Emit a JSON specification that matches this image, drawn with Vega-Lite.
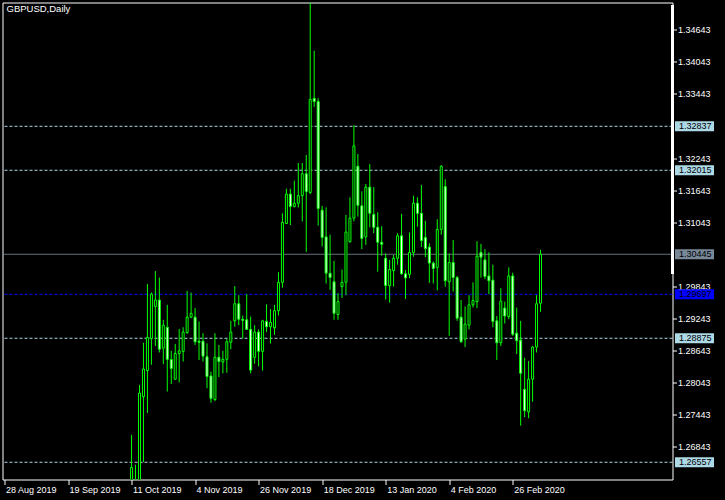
{
  "$schema": "https://vega.github.io/schema/vega-lite/v6.json",
  "autosize": {"type": "none"},
  "width": 670,
  "height": 477,
  "padding": {"left": 2.5, "top": 2.5, "right": 52.5, "bottom": 20.5},
  "background": "black",
  "config": {
    "view": {"stroke": "white", "strokeWidth": 1, "fill": "black"},
    "axis": {"grid": false, "domain": false, "labelColor": "white", "tickColor": "white", "labelFont": "Liberation Sans", "title": null}
  },
  "title": {"text": "GBPUSD,Daily", "anchor": "start", "frame": "group", "orient": "top", "offset": -11, "dx": 4, "color": "white", "fontSize": 9.5, "font": "Liberation Sans", "fontWeight": "normal"},
  "datasets": {
    "candles": [
      {"d": "2019-10-11", "o": 1.2440, "h": 1.2707, "l": 1.2435, "c": 1.2646},
      {"d": "2019-10-14", "o": 1.2620, "h": 1.2651, "l": 1.2583, "c": 1.2612},
      {"d": "2019-10-15", "o": 1.2612, "h": 1.2800, "l": 1.2600, "c": 1.2785},
      {"d": "2019-10-16", "o": 1.2778, "h": 1.2879, "l": 1.2656, "c": 1.2830},
      {"d": "2019-10-17", "o": 1.2827, "h": 1.2989, "l": 1.2748, "c": 1.2889},
      {"d": "2019-10-18", "o": 1.2887, "h": 1.2973, "l": 1.2838, "c": 1.2970},
      {"d": "2019-10-21", "o": 1.2947, "h": 1.3013, "l": 1.2873, "c": 1.2959},
      {"d": "2019-10-22", "o": 1.2959, "h": 1.3001, "l": 1.2861, "c": 1.2867},
      {"d": "2019-10-23", "o": 1.2869, "h": 1.2922, "l": 1.2839, "c": 1.2912},
      {"d": "2019-10-24", "o": 1.2908, "h": 1.2950, "l": 1.2788, "c": 1.2848},
      {"d": "2019-10-25", "o": 1.2848, "h": 1.2864, "l": 1.2802, "c": 1.2831},
      {"d": "2019-10-28", "o": 1.2811, "h": 1.2877, "l": 1.2810, "c": 1.2859},
      {"d": "2019-10-29", "o": 1.2859, "h": 1.2905, "l": 1.2805, "c": 1.2864},
      {"d": "2019-10-30", "o": 1.2863, "h": 1.2908, "l": 1.2844, "c": 1.2899},
      {"d": "2019-10-31", "o": 1.2898, "h": 1.2976, "l": 1.2896, "c": 1.2927},
      {"d": "2019-11-01", "o": 1.2927, "h": 1.2973, "l": 1.2925, "c": 1.2934},
      {"d": "2019-11-04", "o": 1.2927, "h": 1.2944, "l": 1.2875, "c": 1.2881},
      {"d": "2019-11-05", "o": 1.2882, "h": 1.2919, "l": 1.2847, "c": 1.2880},
      {"d": "2019-11-06", "o": 1.2882, "h": 1.2897, "l": 1.2844, "c": 1.2854},
      {"d": "2019-11-07", "o": 1.2853, "h": 1.2878, "l": 1.2794, "c": 1.2816},
      {"d": "2019-11-08", "o": 1.2817, "h": 1.2825, "l": 1.2767, "c": 1.2775},
      {"d": "2019-11-11", "o": 1.2773, "h": 1.2897, "l": 1.2770, "c": 1.2852},
      {"d": "2019-11-12", "o": 1.2852, "h": 1.2875, "l": 1.2815, "c": 1.2844},
      {"d": "2019-11-13", "o": 1.2843, "h": 1.2864, "l": 1.2822, "c": 1.2848},
      {"d": "2019-11-14", "o": 1.2848, "h": 1.2886, "l": 1.2823, "c": 1.2881},
      {"d": "2019-11-15", "o": 1.2880, "h": 1.2920, "l": 1.2867, "c": 1.2899},
      {"d": "2019-11-18", "o": 1.2920, "h": 1.2985, "l": 1.2909, "c": 1.2952},
      {"d": "2019-11-19", "o": 1.2952, "h": 1.2968, "l": 1.2912, "c": 1.2923},
      {"d": "2019-11-20", "o": 1.2923, "h": 1.2930, "l": 1.2887, "c": 1.2921},
      {"d": "2019-11-21", "o": 1.2922, "h": 1.2970, "l": 1.2903, "c": 1.2904},
      {"d": "2019-11-22", "o": 1.2904, "h": 1.2928, "l": 1.2822, "c": 1.2828},
      {"d": "2019-11-25", "o": 1.2852, "h": 1.2912, "l": 1.2840, "c": 1.2899},
      {"d": "2019-11-26", "o": 1.2899, "h": 1.2904, "l": 1.2835, "c": 1.2863},
      {"d": "2019-11-27", "o": 1.2863, "h": 1.2922, "l": 1.2827, "c": 1.2920},
      {"d": "2019-11-28", "o": 1.2919, "h": 1.2951, "l": 1.2899, "c": 1.2909},
      {"d": "2019-11-29", "o": 1.2909, "h": 1.2942, "l": 1.2878, "c": 1.2917},
      {"d": "2019-12-02", "o": 1.2907, "h": 1.2950, "l": 1.2894, "c": 1.2939},
      {"d": "2019-12-03", "o": 1.2939, "h": 1.3011, "l": 1.2930, "c": 1.2992},
      {"d": "2019-12-04", "o": 1.2992, "h": 1.3121, "l": 1.2982, "c": 1.3104},
      {"d": "2019-12-05", "o": 1.3102, "h": 1.3167, "l": 1.3101, "c": 1.3157},
      {"d": "2019-12-06", "o": 1.3157, "h": 1.3167, "l": 1.3099, "c": 1.3134},
      {"d": "2019-12-09", "o": 1.3134, "h": 1.3182, "l": 1.3132, "c": 1.3140},
      {"d": "2019-12-10", "o": 1.3140, "h": 1.3215, "l": 1.3132, "c": 1.3154},
      {"d": "2019-12-11", "o": 1.3154, "h": 1.3215, "l": 1.3106, "c": 1.3195},
      {"d": "2019-12-12", "o": 1.3195, "h": 1.3230, "l": 1.3049, "c": 1.3162},
      {"d": "2019-12-13", "o": 1.3160, "h": 1.3515, "l": 1.3157, "c": 1.3334},
      {"d": "2019-12-16", "o": 1.3336, "h": 1.3425, "l": 1.3320, "c": 1.3330},
      {"d": "2019-12-17", "o": 1.3330, "h": 1.3336, "l": 1.3098, "c": 1.3130},
      {"d": "2019-12-18", "o": 1.3127, "h": 1.3135, "l": 1.3059, "c": 1.3076},
      {"d": "2019-12-19", "o": 1.3077, "h": 1.3132, "l": 1.2990, "c": 1.3009},
      {"d": "2019-12-20", "o": 1.3009, "h": 1.3081, "l": 1.2978, "c": 1.3001},
      {"d": "2019-12-23", "o": 1.2993, "h": 1.3032, "l": 1.2922, "c": 1.2934},
      {"d": "2019-12-24", "o": 1.2932, "h": 1.2972, "l": 1.2922, "c": 1.2956},
      {"d": "2019-12-26", "o": 1.2984, "h": 1.3016, "l": 1.2963, "c": 1.2992},
      {"d": "2019-12-27", "o": 1.2992, "h": 1.3118, "l": 1.2968, "c": 1.3086},
      {"d": "2019-12-30", "o": 1.3068, "h": 1.3151, "l": 1.3066, "c": 1.3112},
      {"d": "2019-12-31", "o": 1.3112, "h": 1.3286, "l": 1.3106, "c": 1.3247},
      {"d": "2020-01-02", "o": 1.3209, "h": 1.3232, "l": 1.3115, "c": 1.3136},
      {"d": "2020-01-03", "o": 1.3135, "h": 1.3162, "l": 1.3054, "c": 1.3074},
      {"d": "2020-01-06", "o": 1.3077, "h": 1.3176, "l": 1.3062, "c": 1.3170},
      {"d": "2020-01-07", "o": 1.3170, "h": 1.3213, "l": 1.3095, "c": 1.3121},
      {"d": "2020-01-08", "o": 1.3119, "h": 1.3170, "l": 1.3084, "c": 1.3095},
      {"d": "2020-01-09", "o": 1.3095, "h": 1.3123, "l": 1.3012, "c": 1.3067},
      {"d": "2020-01-10", "o": 1.3067, "h": 1.3097, "l": 1.3042, "c": 1.3063},
      {"d": "2020-01-13", "o": 1.3037, "h": 1.3046, "l": 1.2960, "c": 1.2986},
      {"d": "2020-01-14", "o": 1.2986, "h": 1.3034, "l": 1.2954, "c": 1.3016},
      {"d": "2020-01-15", "o": 1.3014, "h": 1.3043, "l": 1.2984, "c": 1.3037},
      {"d": "2020-01-16", "o": 1.3037, "h": 1.3084, "l": 1.3025, "c": 1.3079},
      {"d": "2020-01-17", "o": 1.3079, "h": 1.3120, "l": 1.3006, "c": 1.3008},
      {"d": "2020-01-20", "o": 1.3008, "h": 1.3015, "l": 1.2961, "c": 1.3000},
      {"d": "2020-01-21", "o": 1.3007, "h": 1.3085, "l": 1.3000, "c": 1.3048},
      {"d": "2020-01-22", "o": 1.3048, "h": 1.3154, "l": 1.3040, "c": 1.3140},
      {"d": "2020-01-23", "o": 1.3140, "h": 1.3151, "l": 1.3096, "c": 1.3121},
      {"d": "2020-01-24", "o": 1.3121, "h": 1.3174, "l": 1.3058, "c": 1.3070},
      {"d": "2020-01-27", "o": 1.3076, "h": 1.3107, "l": 1.3039, "c": 1.3055},
      {"d": "2020-01-28", "o": 1.3058, "h": 1.3065, "l": 1.2991, "c": 1.3028},
      {"d": "2020-01-29", "o": 1.3028, "h": 1.3031, "l": 1.2990, "c": 1.3018},
      {"d": "2020-01-30", "o": 1.3020, "h": 1.3110, "l": 1.2977, "c": 1.3091},
      {"d": "2020-01-31", "o": 1.3091, "h": 1.3211, "l": 1.3081, "c": 1.3209},
      {"d": "2020-02-03", "o": 1.3171, "h": 1.3185, "l": 1.2984, "c": 1.2995},
      {"d": "2020-02-04", "o": 1.2993, "h": 1.3046, "l": 1.2892, "c": 1.3029},
      {"d": "2020-02-05", "o": 1.3029, "h": 1.3071, "l": 1.2975, "c": 1.3001},
      {"d": "2020-02-06", "o": 1.3001, "h": 1.3004, "l": 1.2920, "c": 1.2925},
      {"d": "2020-02-07", "o": 1.2927, "h": 1.2959, "l": 1.2879, "c": 1.2881},
      {"d": "2020-02-10", "o": 1.2886, "h": 1.2947, "l": 1.2871, "c": 1.2914},
      {"d": "2020-02-11", "o": 1.2912, "h": 1.2968, "l": 1.2904, "c": 1.2950},
      {"d": "2020-02-12", "o": 1.2950, "h": 1.2992, "l": 1.2945, "c": 1.2958},
      {"d": "2020-02-13", "o": 1.2956, "h": 1.3069, "l": 1.2944, "c": 1.3041},
      {"d": "2020-02-14", "o": 1.3048, "h": 1.3064, "l": 1.3001, "c": 1.3039},
      {"d": "2020-02-17", "o": 1.3034, "h": 1.3054, "l": 1.2998, "c": 1.3003},
      {"d": "2020-02-18", "o": 1.3004, "h": 1.3048, "l": 1.2970, "c": 1.2995},
      {"d": "2020-02-19", "o": 1.2996, "h": 1.3025, "l": 1.2908, "c": 1.2919},
      {"d": "2020-02-20", "o": 1.2920, "h": 1.2929, "l": 1.2847, "c": 1.2879},
      {"d": "2020-02-21", "o": 1.2879, "h": 1.2981, "l": 1.2873, "c": 1.2957},
      {"d": "2020-02-24", "o": 1.2944, "h": 1.2956, "l": 1.2915, "c": 1.2929},
      {"d": "2020-02-25", "o": 1.2928, "h": 1.3020, "l": 1.2923, "c": 1.3004},
      {"d": "2020-02-26", "o": 1.3004, "h": 1.3010, "l": 1.2892, "c": 1.2895},
      {"d": "2020-02-27", "o": 1.2897, "h": 1.2945, "l": 1.2858, "c": 1.2883},
      {"d": "2020-02-28", "o": 1.2884, "h": 1.2920, "l": 1.2724, "c": 1.2822},
      {"d": "2020-03-02", "o": 1.2792, "h": 1.2851, "l": 1.2740, "c": 1.2752},
      {"d": "2020-03-03", "o": 1.2750, "h": 1.2845, "l": 1.2738, "c": 1.2811},
      {"d": "2020-03-04", "o": 1.2811, "h": 1.2873, "l": 1.2769, "c": 1.2871},
      {"d": "2020-03-05", "o": 1.2871, "h": 1.2968, "l": 1.2861, "c": 1.2952},
      {"d": "2020-03-06", "o": 1.2953, "h": 1.3053, "l": 1.2937, "c": 1.30445}
    ],
    "levels": [
      {"value": 1.32837, "kind": "level"},
      {"value": 1.32015, "kind": "level"},
      {"value": 1.30445, "kind": "bid"},
      {"value": 1.29697, "kind": "mid"},
      {"value": 1.28875, "kind": "level"},
      {"value": 1.26557, "kind": "level"}
    ],
    "edge": [{"top": 1.35104, "bottom": 1.30076}]
  },
  "encoding": {
    "x": {
      "field": "d", "type": "ordinal",
      "scale": {
        "type": "point",
        "range": [0, 540],
        "domain": ["2019-08-28","2019-08-29","2019-08-30","2019-09-02","2019-09-03","2019-09-04","2019-09-05","2019-09-06","2019-09-09","2019-09-10","2019-09-11","2019-09-12","2019-09-13","2019-09-16","2019-09-17","2019-09-18","2019-09-19","2019-09-20","2019-09-23","2019-09-24","2019-09-25","2019-09-26","2019-09-27","2019-09-30","2019-10-01","2019-10-02","2019-10-03","2019-10-04","2019-10-07","2019-10-08","2019-10-09","2019-10-10","2019-10-11","2019-10-14","2019-10-15","2019-10-16","2019-10-17","2019-10-18","2019-10-21","2019-10-22","2019-10-23","2019-10-24","2019-10-25","2019-10-28","2019-10-29","2019-10-30","2019-10-31","2019-11-01","2019-11-04","2019-11-05","2019-11-06","2019-11-07","2019-11-08","2019-11-11","2019-11-12","2019-11-13","2019-11-14","2019-11-15","2019-11-18","2019-11-19","2019-11-20","2019-11-21","2019-11-22","2019-11-25","2019-11-26","2019-11-27","2019-11-28","2019-11-29","2019-12-02","2019-12-03","2019-12-04","2019-12-05","2019-12-06","2019-12-09","2019-12-10","2019-12-11","2019-12-12","2019-12-13","2019-12-16","2019-12-17","2019-12-18","2019-12-19","2019-12-20","2019-12-23","2019-12-24","2019-12-26","2019-12-27","2019-12-30","2019-12-31","2020-01-02","2020-01-03","2020-01-06","2020-01-07","2020-01-08","2020-01-09","2020-01-10","2020-01-13","2020-01-14","2020-01-15","2020-01-16","2020-01-17","2020-01-20","2020-01-21","2020-01-22","2020-01-23","2020-01-24","2020-01-27","2020-01-28","2020-01-29","2020-01-30","2020-01-31","2020-02-03","2020-02-04","2020-02-05","2020-02-06","2020-02-07","2020-02-10","2020-02-11","2020-02-12","2020-02-13","2020-02-14","2020-02-17","2020-02-18","2020-02-19","2020-02-20","2020-02-21","2020-02-24","2020-02-25","2020-02-26","2020-02-27","2020-02-28","2020-03-02","2020-03-03","2020-03-04","2020-03-05","2020-03-06"]
      },
      "axis": {
        "orient": "bottom",
        "values": ["2019-08-28","2019-09-19","2019-10-11","2019-11-04","2019-11-26","2019-12-18","2020-01-13","2020-02-04","2020-02-26"],
        "labelExpr": "utcFormat(toDate(datum.value), '%-d %b %Y')",
        "labelAlign": "left",
        "labelAngle": 0,
        "labelOffset": 1,
        "labelFontSize": 9,
        "labelPadding": 1,
        "tickSize": 5,
        "labelOverlap": false
      }
    }
  },
  "layer": [
    {
      "data": {"name": "levels"},
      "mark": {"type": "rule", "strokeWidth": 1},
      "encoding": {
        "x": null,
        "y": {"field": "value", "type": "quantitative"},
        "color": {"field": "kind", "type": "nominal", "scale": {"domain": ["level", "mid", "bid"], "range": ["#ADD8E6", "#0000FF", "#778899"]}, "legend": null},
        "strokeDash": {"field": "kind", "type": "nominal", "scale": {"domain": ["level", "mid", "bid"], "range": [[3, 2], [3, 2], [1, 0]]}, "legend": null}
      }
    },
    {
      "data": {"name": "candles"},
      "mark": {"type": "rule", "color": "#00FF00", "strokeWidth": 1, "clip": true},
      "encoding": {
        "y": {
          "field": "l", "type": "quantitative",
          "scale": {"domain": [1.26235, 1.35151], "nice": false, "zero": false},
          "axis": {
            "orient": "right",
            "values": [1.34643, 1.34043, 1.33443, 1.32243, 1.31643, 1.31043, 1.29843, 1.29243, 1.28643, 1.28043, 1.27443, 1.26843],
            "format": ".5f",
            "labelFontSize": 9,
            "labelPadding": 1,
            "tickSize": 4,
            "labelOverlap": false,
            "labelFlush": false
          }
        },
        "y2": {"field": "h"}
      }
    },
    {
      "data": {"name": "candles"},
      "mark": {"type": "bar", "width": 2, "stroke": "#00FF00", "strokeWidth": 1, "clip": true},
      "encoding": {
        "y": {"field": "o", "type": "quantitative"},
        "y2": {"field": "c"},
        "fill": {"condition": {"test": "datum.c < datum.o", "value": "white"}, "value": "black"}
      }
    },
    {
      "data": {"name": "edge"},
      "mark": {"type": "rule", "color": "white", "strokeWidth": 3},
      "encoding": {
        "x": {"value": "width"},
        "y": {"field": "top", "type": "quantitative"},
        "y2": {"field": "bottom"}
      }
    },
    {
      "data": {"name": "levels"},
      "mark": {"type": "rect", "xOffset": 2.5, "x2Offset": 41.5, "yOffset": -5, "y2Offset": 5},
      "encoding": {
        "x": {"value": "width"},
        "x2": {"value": "width"},
        "y": {"field": "value", "type": "quantitative"},
        "y2": {"field": "value"},
        "color": {"field": "kind", "type": "nominal", "scale": {"domain": ["level", "mid", "bid"], "range": ["#ADD8E6", "#0000FF", "#778899"]}, "legend": null}
      }
    },
    {
      "data": {"name": "levels"},
      "mark": {"type": "text", "align": "left", "baseline": "middle", "dx": 6.5, "fontSize": 9, "font": "Liberation Sans", "color": "black"},
      "encoding": {
        "x": {"value": "width"},
        "y": {"field": "value", "type": "quantitative"},
        "text": {"field": "value", "type": "quantitative", "format": ".5f"}
      }
    }
  ]
}
